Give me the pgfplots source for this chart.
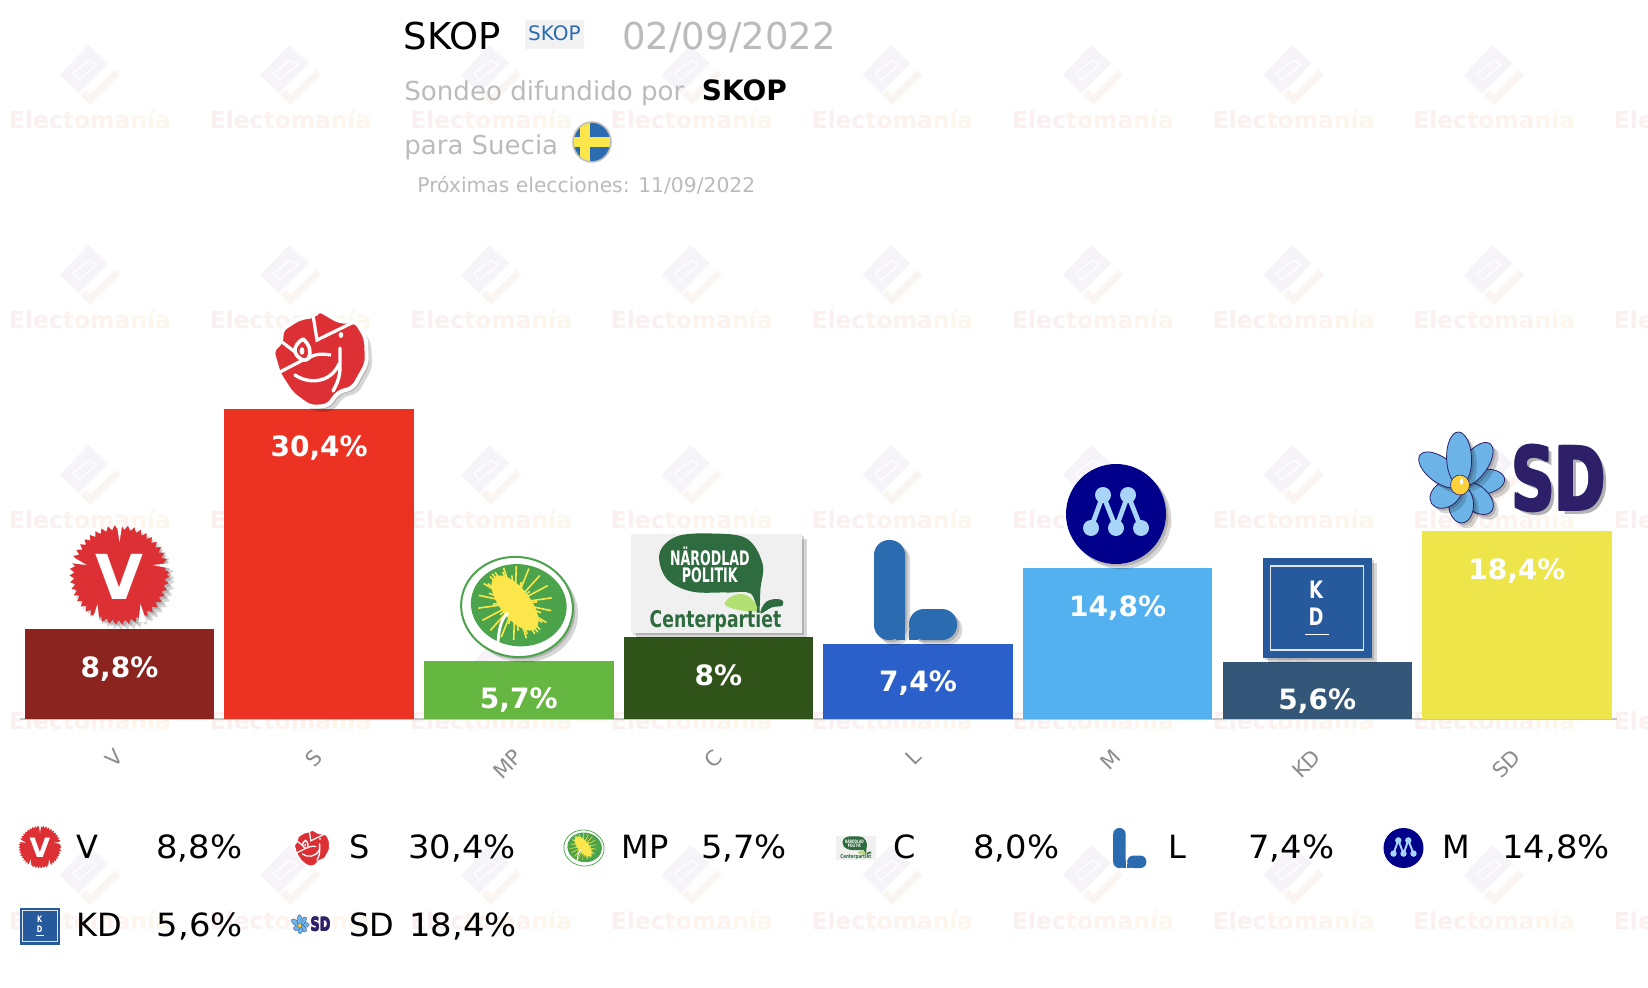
\documentclass[border=0pt]{standalone}
\usepackage{fontspec}
\setmainfont{DejaVu Sans}
\usepackage{pgfplots}
\pgfplotsset{compat=1.18}
\usetikzlibrary{decorations.pathmorphing,shadows}
\definecolor{wmA}{HTML}{FBF0F0}
\definecolor{wmB}{HTML}{FCF3EF}
\definecolor{wmC}{HTML}{FDF6EC}
\definecolor{wmP}{HTML}{F6F3F9}
\definecolor{wmO}{HTML}{FBF5F1}
\definecolor{cV}{HTML}{8B231F}
\definecolor{cS}{HTML}{EC3323}
\definecolor{cMP}{HTML}{66B741}
\definecolor{cC}{HTML}{30531A}
\definecolor{cL}{HTML}{2B5FC9}
\definecolor{cM}{HTML}{53B1EF}
\definecolor{cKD}{HTML}{345678}
\definecolor{cSD}{HTML}{EDE54A}
\definecolor{rojo}{HTML}{DD3035}
\definecolor{verde}{HTML}{4BA34B}
\definecolor{verdeC}{HTML}{2E6B3F}
\definecolor{azulL}{HTML}{2B6CB0}
\definecolor{azulKD}{HTML}{265A9C}
\definecolor{navyM}{HTML}{00008B}
\definecolor{clM}{HTML}{A8D4F8}
\definecolor{navySD}{HTML}{2D2068}
\definecolor{petal}{HTML}{6CB4E8}
\definecolor{gristxt}{HTML}{BBBBBB}
\definecolor{amar}{HTML}{FBE64B}
\newcommand\fs[1]{\fontsize{#1}{#1}\selectfont}
\newcommand\placelogo[4]{\begin{scope}[shift={(#1,#2)},scale=#3,every node/.style={transform shape,inner sep=0pt,outer sep=0pt}]\def\sc{#3}#4\end{scope}}
\newcommand\logoV{%
  \fill[rojo,sh,decorate,decoration={zigzag,segment length=\sc*3.2pt,amplitude=\sc*1.2pt}] (0,0) circle (47.5);
  \fill[white] (-3,-52)--(3,-52)--(0,-33)--cycle;
  \fill[white] (-53,-22)--(-50,-12)--(-33,-10)--cycle;
  \fill[white] (53,-12)--(53,-6)--(33,-10)--cycle;
  \fill[white] (-28,47)--(-20,47)--(-22,29)--cycle;
  \fill[white] (19,47)--(27,47)--(21,29)--cycle;
  \node[text=white,font=\bfseries\fs{31}] at (0,2) {V};
}
\newcommand\logoS{%
  \filldraw[fill=rojo,draw=white,line width=\sc*2pt,line join=round,rounded corners=\sc*3pt,sh] (-2,-50)--(20,-37)--(36,-38)--(46,-21)--(47,4)--(33,29)--(18,33)--(8,47)--(-10,48)--(-28,35)--(-41,15)--(-48,-9)--(-38,-17)--(-39,-29)--(-20,-41)--(-5,-43)--cycle;
  \draw[white,line width=\sc*1.6pt] (-7,-44)--(-3,-19)--(34,-37);
  \draw[white,line width=\sc*1.6pt] (-38,-17)--(-21,-4) (-42,14)--(-17,1);
  \filldraw[fill=rojo,draw=white,line width=\sc*1.8pt,line join=round] (-17,-20) .. controls (-10,-14) and (-8,-6) .. (-12,0) .. controls (-16,3) and (-22,0) .. (-25,-7) .. controls (-26,-12) and (-22,-17) .. (-17,-20) -- cycle;
  \fill[white] (-18,-8) ellipse (2.4 and 3.8);
  \draw[white,line width=\sc*1.6pt] (-11,-1) .. controls (-4,-6) and (4,-5) .. (11,-4);
  \draw[white,line width=\sc*1.7pt,line cap=round] (20,-11)--(20,8) .. controls (20,18) and (17,25) .. (13,32);
  \draw[white,line width=\sc*1.7pt,line cap=round] (-25,16) .. controls (-12,25) and (10,25) .. (19,5);
  \fill[white] (21,-24) ellipse (2.3 and 3);
}
\newcommand\logoMP{%
  \filldraw[fill=white,draw=verde,line width=\sc*1pt,sh,rotate=-8] (0,0) ellipse (56 and 50);
  \fill[verde,rotate=-8] (1.5,-2) ellipse (48 and 41);
  \begin{scope}[shift={(-2,-4)},rotate=-52]
    \fill[amar] (0,0) ellipse (33 and 15);
    \foreach \a in {0,20,...,340}{\draw[amar,line width=\sc*.8pt,rotate=\a] (0,0)--(37,0);}
    \foreach \a in {10,30,...,350}{\draw[amar,line width=\sc*.8pt] (0,0)--(\a:37 and 19);}
  \end{scope}
  \draw[white,line width=\sc*1.4pt] (-19,35) .. controls (-18,22) and (-16,12) .. (-9,6);
}
\newcommand\logoC{%
  \fill[black!6,sh] (-85.5,-49.5) rectangle (85.5,49.5);
  \fill[verdeC] plot[smooth cycle,tension=.6] coordinates {(-57,-30)(-40,-47)(-5,-50)(30,-45)(46,-20)(44,5)(42,29)(34,10)(10,9)(-25,8)(-50,-5)};
  \fill[yellow!50!green!60!white] plot[smooth cycle,tension=.7] coordinates {(8,20)(20,11)(34,14)(40,27)(20,26)};
  \fill[verdeC] plot[smooth cycle,tension=.7] coordinates {(44,30)(50,18)(64,16)(66,22)(55,24)};
  \node[text=white,font=\bfseries\fs{10}] at (-6.7,-27) {\scalebox{.63}[1]{NÄRODLAD}};
  \node[text=white,font=\bfseries\fs{10}] at (-6.7,-8.5) {\scalebox{.63}[1]{POLITIK}};
  \node[text=verdeC,font=\bfseries\fs{11.5}] at (-1,38) {\scalebox{.75}[1]{Centerpartiet}};
}
\newcommand\logoL{%
  \fill[azulL,sh,rounded corners=\sc*7.5pt] (-42,50)--(-42,-50)--(-11,-50)--(-11,50)--cycle;
  \fill[azulL] (-20,50) rectangle (-11,30);
  \fill[azulL,sh,rounded corners=\sc*7.5pt] (-7,50)--(-7,19)--(41,19)--(41,50)--cycle;
  \fill[azulL] (-7,40) rectangle (2,50);
}
\newcommand\logoM{%
  \fill[navyM,sh] (0,0) circle (50);
  \draw[clM,line width=\sc*2.4pt] (-25,14)--(-13,-19)--(0,14)--(12,-19)--(25,14);
  \fill[clM] (-13,-19) circle (8) (12,-19) circle (8) (-25,14) circle (8) (0,14) circle (8) (25,14) circle (8);
}
\newcommand\logoKD{%
  \fill[azulKD,sh] (-54.5,-50) rectangle (54.5,50);
  \draw[white!85!azulKD,line width=\sc*.8pt] (-46.5,-42) rectangle (46.5,42);
  \node[text=white,font=\bfseries\fs{12}] at (-1,-18) {\scalebox{.75}[1]{K}};
  \node[text=white,font=\bfseries\fs{12}] at (-1,9) {\scalebox{.75}[1]{D}};
  \fill[white] (-12,25.5) rectangle (12,27);
}
\newcommand\sdtxt[2]{\node[text=#1,font=\bfseries\fs{44},opacity=#2] at (0,0) {\scalebox{.69}[1]{SD}};}
\newcommand\logoSD{%
  \begin{scope}[shift={(-58,-1)}]
  \foreach \a/\l in {82/45,130/41,177/38,237/34,307/50,36/51,-2/53}{%
    \begin{scope}[rotate=-\a]
      \filldraw[fill=petal,draw=navySD,line width=\sc*.4pt,sh] (0,-\l/2) ellipse (12.5 and \l/2);
    \end{scope}}
  \filldraw[fill=amar!80!orange,draw=navySD,line width=\sc*.3pt] (0,0) ellipse (9.5 and 10);
  \fill[white] (1.5,-3.5) ellipse (1.5 and 3.5);
  \end{scope}
  \begin{scope}[shift={(40.5,-7.5)}]
    \begin{scope}[shift={(4,4)}]\sdtxt{black}{\shop}\end{scope}
    \begin{scope}[shift={(-1.2,-1.2)}]\sdtxt{navySD}{1}\end{scope}
    \begin{scope}[shift={(1.2,-1.2)}]\sdtxt{navySD}{1}\end{scope}
    \begin{scope}[shift={(-1.2,1.2)}]\sdtxt{navySD}{1}\end{scope}
    \begin{scope}[shift={(1.2,1.2)}]\sdtxt{navySD}{1}\end{scope}
  \end{scope}
}
\begin{document}
\begin{tikzpicture}[x=0.5pt,y=-0.5pt]
\path[use as bounding box,clip] (0,0) rectangle (1648,988);
\fill[white] (0,0) rectangle (1648,988);
% watermark
\foreach \r in {0,1,2,3,4}{\foreach \c in {0,...,8}{
  \begin{scope}[shift={(90+200.6*\c,75+200*\r)}]
    \fill[wmP] (-1.7,-30)--(18,-11.7)--(-11.7,18.3)--(-30,0)--cycle;
    \draw[white,line width=.6pt] (0,-15)--(6.7,-10)--(-11.7,5)--(-17.3,-1.7)--cycle;
    \fill[wmO] (25,-5)--(30,0)--(0,30)--(-10,20)--(-5,15)--(0,20)--cycle;
    \node[inner sep=0pt,anchor=base,font=\bfseries\fs{11.7}] at (0,54) {\textcolor{wmA}{Elec}\textcolor{wmB}{toma}\textcolor{wmC}{nía}};
  \end{scope}
}}
% chart
\begin{axis}[
  at={(9.85pt,-359.5pt)},anchor=south west,
  scale only axis,width=798.5pt,height=204pt,
  xmin=-0.5,xmax=7.5,ymin=0,ymax=40,
  clip=false,
  axis y line=none,
  axis x line*=bottom,
  axis line style={draw=black!22,line width=1pt},
  x axis line style={-},
  xtick={0,...,7},
  xticklabels={V,S,MP,C,L,M,KD,SD},
  major tick length=0pt,
  xticklabel style={yshift=-17pt,rotate=45,anchor=east,text=black!45,font=\fs{10.5},inner sep=0pt},
  ybar,bar width=94.75pt,bar shift=0pt,
  point meta=explicit symbolic,
  nodes near coords,
  every node near coord/.append style={text=white,font=\bfseries\fs{14},anchor=base,yshift=-24pt,inner sep=0pt},
]
\addplot[fill=cV,draw=none] coordinates {(0,8.8) [{8,8\%}]};
\addplot[fill=cS,draw=none] coordinates {(1,30.4) [{30,4\%}]};
\addplot[fill=cMP,draw=none] coordinates {(2,5.7) [{5,7\%}]};
\addplot[fill=cC,draw=none] coordinates {(3,8) [{8\%}]};
\addplot[fill=cL,draw=none] coordinates {(4,7.4) [{7,4\%}]};
\addplot[fill=cM,draw=none] coordinates {(5,14.8) [{14,8\%}]};
\addplot[fill=cKD,draw=none] coordinates {(6,5.6) [{5,6\%}]};
\addplot[fill=cSD,draw=none] coordinates {(7,18.4) [{18,4\%}]};
\end{axis}
% big logos
\tikzset{sh/.style={drop shadow={shadow xshift=1.2pt,shadow yshift=-1.2pt,opacity=.16,fill=black},drop shadow={shadow xshift=2.6pt,shadow yshift=-2.6pt,opacity=.16,fill=black}}}
\def\shop{.3}
\placelogo{119.5}{575}{1}{\logoV}
\placelogo{320}{359}{1}{\logoS}
\placelogo{517}{607}{1}{\logoMP}
\placelogo{716.5}{583.5}{1}{\logoC}
\placelogo{916}{590}{1}{\logoL}
\placelogo{1116}{514}{1}{\logoM}
\placelogo{1317}{608}{1}{\logoKD}
\placelogo{1518}{486}{1}{\logoSD}
% legend logos
\tikzset{sh/.style={}}
\def\shop{0}
\placelogo{40}{847}{.43}{\logoV}
\placelogo{312}{848}{.38}{\logoS}
\placelogo{584}{848}{.36}{\logoMP}
\placelogo{856}{848}{.235}{\logoC}
\placelogo{1130}{848}{.4}{\logoL}
\placelogo{1403.5}{848}{.4}{\logoM}
\placelogo{40}{926}{.37}{\logoKD}
\placelogo{312}{926}{.21}{\logoSD}
% legend text
\tikzset{lg/.style={anchor=base west,inner sep=0pt,font=\fs{16},text=black}}
\newcommand\vl[1]{\scalebox{1.055}[1]{#1}}
\node[lg] at (76.5,858) {V};   \node[lg] at (156,858) {\vl{8,8\%}};
\node[lg] at (349,858) {S};    \node[lg] at (408,858) {\vl{30,4\%}};
\node[lg] at (621,858) {MP};   \node[lg] at (700.6,858) {\vl{5,7\%}};
\node[lg] at (893,858) {C};    \node[lg] at (973,858) {\vl{8,0\%}};
\node[lg] at (1168,858) {L};   \node[lg] at (1248,858) {\vl{7,4\%}};
\node[lg] at (1442,858) {M};   \node[lg] at (1502,858) {\vl{14,8\%}};
\node[lg] at (76.5,936) {KD};  \node[lg] at (156.5,936) {\vl{5,6\%}};
\node[lg] at (349,936) {SD};   \node[lg] at (409,936) {\vl{18,4\%}};
% header
\tikzset{hd/.style={anchor=base west,inner sep=0pt}}
\node[hd,font=\fs{18.5}] at (403.5,49.5) {SKOP};
\fill[black!5] (525,20) rectangle (584,49);
\node[inner sep=0pt,text=azulL,font=\fs{10}] at (554.5,33.5) {SKOP};
\node[hd,font=\fs{18.5},text=gristxt] at (622,49.5) {02/09/2022};
\node[hd,font=\fs{13.05},text=gristxt] at (404,101) {Sondeo difundido por};
\node[hd,font=\bfseries\fs{14}] at (701.5,101) {SKOP};
\node[hd,font=\fs{13},text=gristxt] at (404,155) {para Suecia};
\node[hd,font=\fs{10.15},text=gristxt] at (417,193) {Próximas elecciones: 11/09/2022};
\begin{scope}
  \clip (592,142) ellipse (19 and 20);
  \fill[azulL] (570,120) rectangle (615,165);
  \fill[amar] (570,137) rectangle (615,147);
  \fill[amar] (580,120) rectangle (590,165);
\end{scope}
\draw[black!25,line width=.8pt] (592,142) ellipse (19 and 20);
\end{tikzpicture}
\end{document}
